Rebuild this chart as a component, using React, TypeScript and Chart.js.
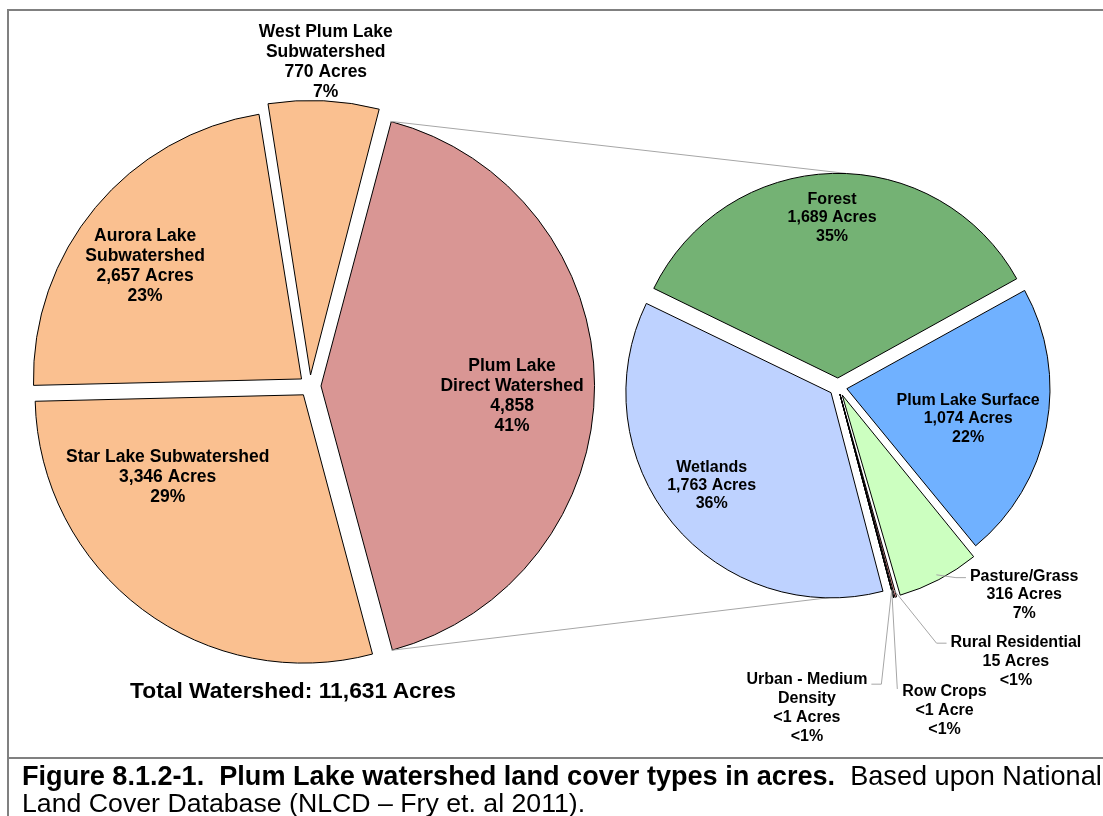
import React, { useEffect, useRef } from 'react';
import { Chart, registerables } from 'chart.js';

Chart.register(...registerables);

// ---------- data ----------
const watershedNames = [
  'Plum Lake Direct Watershed',
  'Star Lake Subwatershed',
  'Aurora Lake Subwatershed',
  'West Plum Lake Subwatershed',
];
const watershedAcres = [4858, 3346, 2657, 770];
const watershedLabelLines = [
  ['Plum Lake', 'Direct Watershed', '4,858', '41%'],
  ['Star Lake Subwatershed', '3,346 Acres', '29%'],
  ['Aurora Lake', 'Subwatershed', '2,657 Acres', '23%'],
  ['West Plum Lake', 'Subwatershed', '770 Acres', '7%'],
];

const coverNames = [
  'Forest',
  'Plum Lake Surface',
  'Pasture/Grass',
  'Rural Residential',
  'Row Crops',
  'Urban - Medium Density',
  'Wetlands',
];
const coverAcres = [1689, 1074, 316, 15, 0.5, 0.5, 1763];
const coverLabelLines = [
  ['Forest', '1,689 Acres', '35%'],
  ['Plum Lake Surface', '1,074 Acres', '22%'],
  ['Pasture/Grass', '316 Acres', '7%'],
  ['Rural Residential', '15 Acres', '<1%'],
  ['Row Crops', '<1 Acre', '<1%'],
  ['Urban - Medium', 'Density', '<1 Acres', '<1%'],
  ['Wetlands', '1,763 Acres', '36%'],
];

const totalLabel = 'Total Watershed: 11,631 Acres';
const captionBold = 'Figure 8.1.2-1.\u00a0 Plum Lake watershed land cover types in acres.';
const captionRest = '\u00a0 Based upon National';
const captionLine2 = 'Land Cover Database (NLCD – Fry et. al 2011).';

// ---------- styles ----------
const FONT = '"Liberation Sans", Arial, Helvetica, sans-serif';
const watershedColors = ['#D99694', '#FAC090', '#FAC090', '#FAC090'];
const coverColors = ['#74B274', '#70B1FF', '#CCFFC0', '#FFA0A0', '#9A3B1E', '#C00000', '#BED2FF'];
const leftOffsets = [44, 44, 44, 44];
const rightOffsets = [36, 36, 36, 30, 30, 30, 36];

type Placement = { k: number; da: number; size: number; lh: number; leader?: 'left' | 'right' | 'down' };

const leftPlacement: Placement[] = [
  { k: 0.755, da: 3, size: 17.5, lh: 20 },
  { k: 0.63, da: 20.6, size: 17.5, lh: 20 },
  { k: 0.76, da: -3.8, size: 17.5, lh: 20 },
  { k: 1.21, da: 0, size: 17.5, lh: 20 },
];
const rightPlacement: Placement[] = [
  { k: 0.833, da: -0.5, size: 16, lh: 18.3 },
  { k: 0.66, da: 2.9, size: 16, lh: 18.3 },
  { k: 1.375, da: -14.2, size: 16, lh: 18.3, leader: 'left' },
  { k: 1.61, da: -17.6, size: 16, lh: 19, leader: 'left' },
  { k: 1.68, da: -3.4, size: 16, lh: 19, leader: 'down' },
  { k: 1.587, da: 20.3, size: 16, lh: 19, leader: 'right' },
  { k: 0.79, da: 1.4, size: 16, lh: 18.3 },
];

function arcGeom(el: any, offsetOpt: number) {
  const p = el.getProps(['x', 'y', 'startAngle', 'endAngle', 'outerRadius'], true);
  const mid = (p.startAngle + p.endAngle) / 2;
  const t = offsetOpt / 4;
  const circ = p.endAngle - p.startAngle;
  const fix = 1 - Math.sin(Math.min(Math.PI, circ || 0));
  return {
    x: p.x,
    y: p.y,
    start: p.startAngle,
    end: p.endAngle,
    mid,
    R: p.outerRadius,
    Rr: p.outerRadius + t * fix,
    ax: p.x + Math.cos(mid) * t,
    ay: p.y + Math.sin(mid) * t,
  };
}

function drawLabels(chart: any, lines: string[][], place: Placement[], offsets: number[]) {
  const ctx = chart.ctx as CanvasRenderingContext2D;
  const meta = chart.getDatasetMeta(0);
  meta.data.forEach((el: any, i: number) => {
    const g = arcGeom(el, offsets[i]);
    const pl = place[i];
    const ang = g.mid + (pl.da * Math.PI) / 180;
    const cx = g.x + Math.cos(ang) * pl.k * g.R;
    const cy = g.y + Math.sin(ang) * pl.k * g.R;
    ctx.save();
    ctx.font = `bold ${pl.size}px ${FONT}`;
    ctx.textAlign = 'center';
    ctx.textBaseline = 'middle';
    ctx.fillStyle = '#000';
    const n = lines[i].length;
    const y0 = cy - ((n - 1) * pl.lh) / 2;
    lines[i].forEach((t, j) => ctx.fillText(t, cx, y0 + j * pl.lh));
    if (pl.leader) {
      const w = ctx.measureText(lines[i][0]).width;
      const sx = g.ax + Math.cos(g.mid) * g.R;
      const sy = g.ay + Math.sin(g.mid) * g.R;
      ctx.strokeStyle = '#A6A6A6';
      ctx.lineWidth = 1;
      ctx.beginPath();
      ctx.moveTo(sx, sy);
      if (pl.leader === 'left') {
        const ex = cx - w / 2 - 4;
        const ey = y0 + 1;
        ctx.lineTo(ex - 10, ey);
        ctx.lineTo(ex, ey);
      } else if (pl.leader === 'right') {
        const ex = cx + w / 2 + 4;
        const ey = y0 + 5;
        ctx.lineTo(ex + 10, ey);
        ctx.lineTo(ex, ey);
      } else {
        ctx.lineTo(cx - w / 2 - 5, y0 - 3);
      }
      ctx.stroke();
    }
    ctx.restore();
  });
}

const W = 1103;
const H = 758;

export default function App() {
  const leftRef = useRef<HTMLCanvasElement>(null);
  const rightRef = useRef<HTMLCanvasElement>(null);

  useEffect(() => {
    if (!leftRef.current || !rightRef.current) return;
    const left = new Chart(leftRef.current, {
      type: 'pie',
      data: {
        labels: watershedNames,
        datasets: [
          {
            data: watershedAcres,
            backgroundColor: watershedColors,
            borderColor: '#000',
            borderWidth: 1,
            offset: leftOffsets,
          } as any,
        ],
      },
      options: {
        animation: false,
        responsive: false,
        maintainAspectRatio: false,
        devicePixelRatio: 1,
        events: [],
        radius: 268,
        rotation: 14.7,
        layout: { padding: { left: 0, right: W - 620, top: 14, bottom: 0 } },
        plugins: { legend: { display: false }, tooltip: { enabled: false } },
      } as any,
      plugins: [
        {
          id: 'leftLabels',
          afterDatasetsDraw(chart: any) {
            drawLabels(chart, watershedLabelLines, leftPlacement, leftOffsets);
          },
        },
      ],
    });

    const right = new Chart(rightRef.current, {
      type: 'pie',
      data: {
        labels: coverNames,
        datasets: [
          {
            data: coverAcres,
            backgroundColor: coverColors,
            borderColor: '#000',
            borderWidth: 1,
            offset: rightOffsets,
          } as any,
        ],
      },
      options: {
        animation: false,
        responsive: false,
        maintainAspectRatio: false,
        devicePixelRatio: 1,
        events: [],
        radius: 203,
        rotation: -64.1,
        layout: { padding: { left: 838 - (W - 838), right: 0, top: 16, bottom: 0 } },
        plugins: { legend: { display: false }, tooltip: { enabled: false } },
      } as any,
      plugins: [
        {
          id: 'connectors',
          beforeDatasetsDraw(chart: any) {
            const ctx = chart.ctx as CanvasRenderingContext2D;
            const lm = left.getDatasetMeta(0);
            const rm = chart.getDatasetMeta(0);
            const pink = arcGeom(lm.data[0], leftOffsets[0]);
            const forest = arcGeom(rm.data[0], rightOffsets[0]);
            const wet = arcGeom(rm.data[6], rightOffsets[6]);
            const p1x = pink.ax + Math.cos(pink.start) * pink.Rr;
            const p1y = pink.ay + Math.sin(pink.start) * pink.Rr;
            const p2x = pink.ax + Math.cos(pink.end) * pink.Rr;
            const p2y = pink.ay + Math.sin(pink.end) * pink.Rr;
            const q1x = forest.ax + 8;
            const q1y = forest.ay - forest.Rr;
            const q2x = wet.ax + Math.cos(wet.start) * wet.Rr;
            const q2y = wet.ay + Math.sin(wet.start) * wet.Rr;
            ctx.save();
            ctx.strokeStyle = '#A6A6A6';
            ctx.lineWidth = 1;
            ctx.beginPath();
            ctx.moveTo(p1x, p1y);
            ctx.lineTo(q1x, q1y);
            ctx.moveTo(p2x, p2y);
            ctx.lineTo(q2x, q2y);
            ctx.stroke();
            ctx.restore();
          },
          afterDatasetsDraw(chart: any) {
            drawLabels(chart, coverLabelLines, rightPlacement, rightOffsets);
          },
        },
      ],
    });

    return () => {
      right.destroy();
      left.destroy();
    };
  }, []);

  return (
    <div style={{ position: 'absolute', left: 0, top: 0, width: W, height: 816, background: '#fff', overflow: 'hidden' }}>
      <div style={{ position: 'absolute', left: 7, top: 9, width: W - 7, height: 2, background: '#808080' }} />
      <div style={{ position: 'absolute', left: 7, top: 9, width: 2, height: 816 - 9, background: '#808080' }} />
      <div style={{ position: 'absolute', left: 7, top: 757, width: W - 7, height: 2, background: '#808080' }} />
      <canvas ref={leftRef} width={W} height={H} style={{ position: 'absolute', left: 0, top: 0, width: W, height: H }} />
      <canvas ref={rightRef} width={W} height={H} style={{ position: 'absolute', left: 0, top: 0, width: W, height: H }} />
      <div
        style={{
          position: 'absolute',
          left: 293,
          top: 676,
          transform: 'translateX(-50%)',
          font: `bold 22.8px ${FONT}`,
          lineHeight: '28px',
          whiteSpace: 'nowrap',
          color: '#000',
        }}
      >
        {totalLabel}
      </div>
      <div
        style={{
          position: 'absolute',
          left: 22,
          top: 762,
          font: `27.1px ${FONT}`,
          lineHeight: '27.5px',
          whiteSpace: 'nowrap',
          color: '#000',
        }}
      >
        <b>{captionBold}</b>
        {captionRest}
      </div>
      <div
        style={{
          position: 'absolute',
          left: 22,
          top: 789.5,
          font: `26.7px ${FONT}`,
          lineHeight: '27.5px',
          whiteSpace: 'nowrap',
          color: '#000',
        }}
      >
        {captionLine2}
      </div>
    </div>
  );
}
